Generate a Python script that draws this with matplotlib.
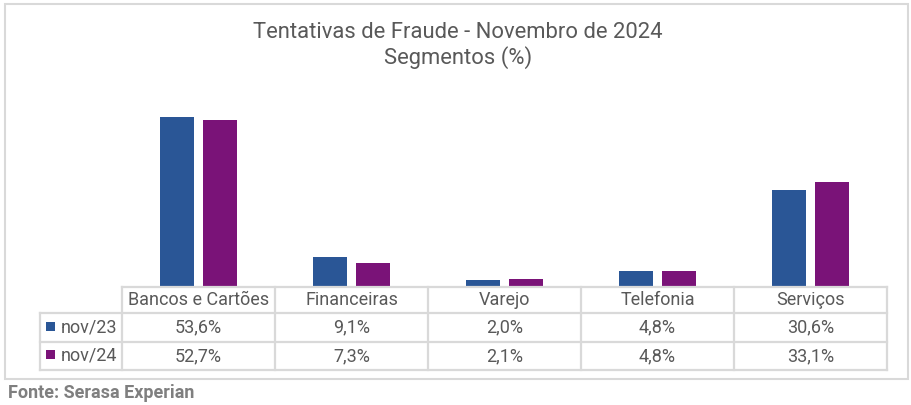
import matplotlib.pyplot as plt
from matplotlib.patches import Rectangle

plt.rcParams['font.family'] = ['Roboto', 'DejaVu Sans']

categories = ['Bancos e Cartões', 'Financeiras', 'Varejo', 'Telefonia', 'Serviços']
series_names = ['nov/23', 'nov/24']
nov23 = [53.6, 9.1, 2.0, 4.8, 30.6]
nov24 = [52.7, 7.3, 2.1, 4.8, 33.1]
colors = ['#2A5696', '#7A1378']
text_color = '#595959'
grid_color = '#D9D9D9'

W, H = 911, 405
fig = plt.figure(figsize=(W / 100, H / 100), dpi=100)

def fx(px):
    return px / W

def fy(py):
    return 1 - py / H

# outer border
fig.patches.append(Rectangle((fx(5), fy(379)), fx(903), 375 / H, transform=fig.transFigure,
                             fill=False, edgecolor=grid_color, linewidth=1.5))

fig.text(fx(458), fy(33), 'Tentativas de Fraude - Novembro de 2024', ha='center', va='center',
         fontsize=15.8, color=text_color)
fig.text(fx(458), fy(58), 'Segmentos (%)', ha='center', va='center', fontsize=15.8, color=text_color)

# bar axes
ax = fig.add_axes([fx(122), fy(286), fx(765), 189 / H])
x = list(range(len(categories)))
bw = 0.222
off = 0.141
ax.bar([i - off for i in x], nov23, width=bw, color=colors[0])
ax.bar([i + off for i in x], nov24, width=bw, color=colors[1])
ax.set_xlim(-0.5, len(categories) - 0.5)
ax.set_ylim(0, 60)
ax.axis('off')

# data table
left_ext = (122 - 40) / 153
tab = fig.add_axes([fx(40), fy(370), fx(847), 83 / H])
tab.set_xlim(-0.5 - left_ext, len(categories) - 0.5)
tab.set_ylim(3, 0)
tab.axis('off')
rows_y = [0, 26 / 83 * 3, 55 / 83 * 3, 3]
lw = 1.6
for yy in rows_y[:1]:
    tab.plot([-0.5, len(categories) - 0.5], [yy] * 2, color=grid_color, lw=lw, clip_on=False)
for yy in rows_y[1:]:
    tab.plot([-0.5 - left_ext, len(categories) - 0.5], [yy] * 2, color=grid_color, lw=lw, clip_on=False)
tab.plot([-0.5 - left_ext] * 2, [rows_y[1], rows_y[3]], color=grid_color, lw=lw, clip_on=False)
for i in range(len(categories) + 1):
    tab.plot([i - 0.5] * 2, [rows_y[0], rows_y[3]], color=grid_color, lw=lw, clip_on=False)

fs = 13
for i, c in enumerate(categories):
    tab.text(i, (rows_y[0] + rows_y[1]) / 2, c, ha='center', va='center', fontsize=fs, color=text_color)
for r, (name, vals) in enumerate(zip(series_names, [nov23, nov24])):
    yc = (rows_y[r + 1] + rows_y[r + 2]) / 2
    sq_y = 327 + r * 28
    fig.patches.append(Rectangle((fx(46), fy(sq_y + 4)), fx(9), 9 / H, transform=fig.transFigure,
                                 facecolor=colors[r], edgecolor='none'))
    tab.text(-0.5 - left_ext + 21 / 153, yc, name, ha='left', va='center', fontsize=fs, color=text_color)
    for i, v in enumerate(vals):
        tab.text(i, yc, f'{v:.1f}%'.replace('.', ','), ha='center', va='center',
                 fontsize=fs, color=text_color)

fig.text(fx(8), fy(393), 'Fonte: Serasa Experian', ha='left', va='center', fontsize=13,
         fontweight='bold', color='#7F7F7F')

fig.savefig('out.png', dpi=100)
